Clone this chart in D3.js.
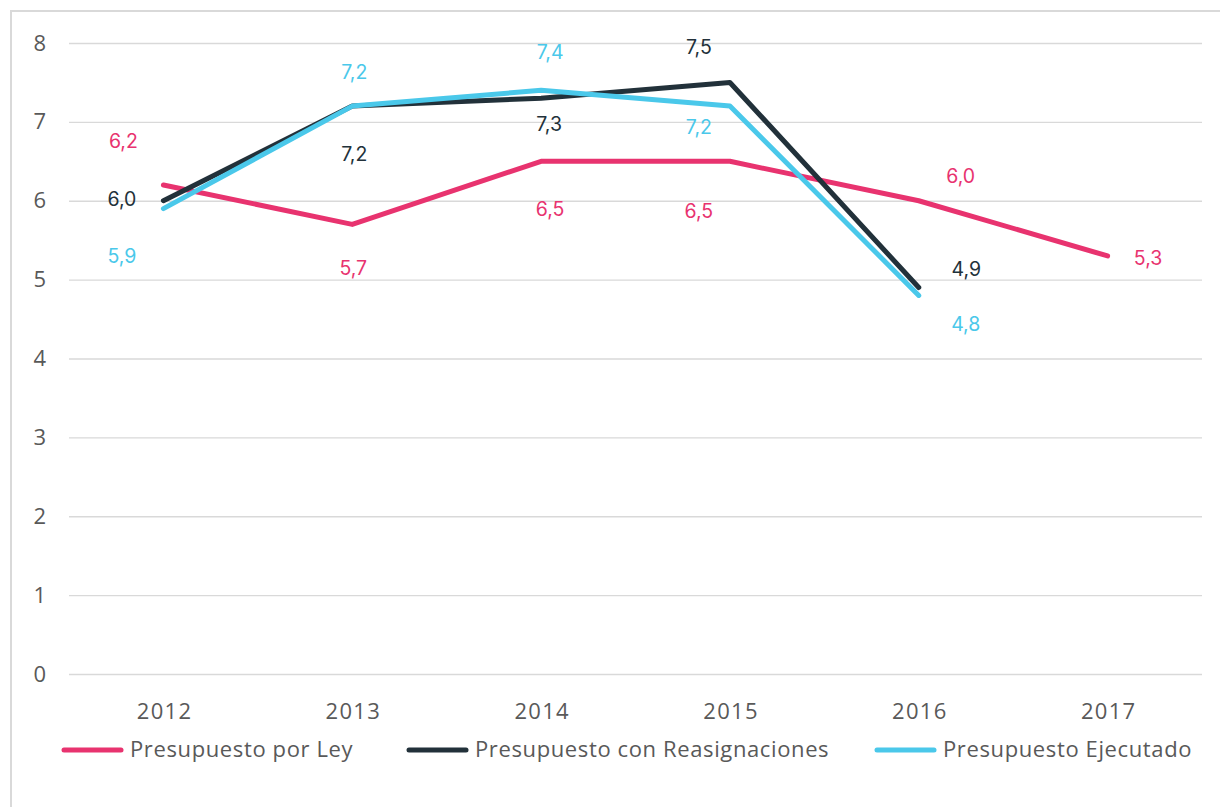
<!DOCTYPE html>
<html>
<head>
<meta charset="utf-8">
<script src="https://cdn.jsdelivr.net/npm/d3@7"></script>
<style>
  html, body { margin: 0; padding: 0; background: #fff; }
  svg { display: block; }
</style>
</head>
<body>
<svg id="chart" width="1220" height="807"></svg>
<script>
// ---- data ----
const years = ["2012", "2013", "2014", "2015", "2016", "2017"];
const yTicks = [0, 1, 2, 3, 4, 5, 6, 7, 8];
const seriesNames = ["Presupuesto por Ley", "Presupuesto con Reasignaciones", "Presupuesto Ejecutado"];
const presupuestoLey = [6.2, 5.7, 6.5, 6.5, 6.0, 5.3];
const presupuestoReasignaciones = [6.0, 7.2, 7.3, 7.5, 4.9, null];
const presupuestoEjecutado = [5.9, 7.2, 7.4, 7.2, 4.8, null];

// ---- styling / layout ----
const colors = ["#E8336F", "#22313A", "#4AC8EA"];
const labelOffsets = [
  [[-40, -43.5], [1, 43.6], [9, 47.7], [-31, 49.7], [42, -24.7], [40.5, 2]],
  [[-41.5, -1.7], [2, 48], [8, 25.3], [-31, -35], [47.5, -18.5], null],
  [[-41.5, 47.4], [2, -34.6], [9, -38.8], [-31, 20.4], [47, 28.6], null]
];
const legendX = [62, 407, 875];

const svg = d3.select("#chart");
const plotLeft = 69, plotRight = 1202, plotTop = 43, plotBottom = 674;

// frame
svg.append("rect")
  .attr("x", 11).attr("y", 11)
  .attr("width", 1230).attr("height", 820)
  .attr("fill", "none").attr("stroke", "#d9d9d9").attr("stroke-width", 2);

const x = d3.scalePoint().domain(years).range([plotLeft, plotRight]).padding(0.5);
const y = d3.scaleLinear().domain([0, 8]).range([plotBottom, plotTop]);

const axisFont = "'Open Sans', 'Liberation Sans', sans-serif";

// y axis with gridlines
const gy = svg.append("g")
  .attr("transform", `translate(${plotLeft},0)`)
  .call(d3.axisLeft(y).tickValues(yTicks).tickSize(-(plotRight - plotLeft)).tickPadding(23).tickFormat(d3.format("d")));
gy.select(".domain").remove();
gy.selectAll(".tick line").attr("stroke", "#d9d9d9").attr("stroke-width", 1.3);
gy.selectAll(".tick text")
  .attr("fill", "#595959")
  .style("font-family", axisFont)
  .style("font-size", "22px");

// x axis
const gx = svg.append("g")
  .attr("transform", `translate(0,${plotBottom})`)
  .call(d3.axisBottom(x).tickSize(0).tickPadding(29));
gx.select(".domain").remove();
gx.selectAll(".tick text")
  .attr("fill", "#595959")
  .attr("dx", "0.6px")
  .style("font-family", axisFont)
  .style("font-size", "22px")
  .style("letter-spacing", "1.3px");

// lines
const allSeries = [presupuestoLey, presupuestoReasignaciones, presupuestoEjecutado];
const line = d3.line()
  .defined(d => d.v !== null)
  .x(d => x(d.year))
  .y(d => y(d.v));

allSeries.forEach((vals, i) => {
  const pts = years.map((yr, j) => ({ year: yr, v: vals[j] }));
  svg.append("path")
    .datum(pts)
    .attr("d", line)
    .attr("fill", "none")
    .attr("stroke", colors[i])
    .attr("stroke-width", 5)
    .attr("stroke-linejoin", "round")
    .attr("stroke-linecap", "round");
});

// data labels
const fmt = d3.formatLocale({ decimal: ",", thousands: ".", grouping: [3], currency: ["", ""] }).format(".1f");
allSeries.forEach((vals, i) => {
  const pts = years.map((yr, j) => ({ year: yr, v: vals[j], off: labelOffsets[i][j] }))
    .filter(d => d.v !== null);
  svg.append("g").selectAll("text")
    .data(pts)
    .join("text")
    .attr("x", d => x(d.year) + d.off[0])
    .attr("y", d => y(d.v) + d.off[1])
    .attr("dy", "0.36em")
    .attr("text-anchor", "middle")
    .attr("fill", colors[i])
    .style("font-family", "Inter, Lato, sans-serif")
    .style("font-size", "19.5px")
    .style("font-weight", 400)
    .text(d => fmt(d.v));
});

// legend
const legend = svg.append("g");
seriesNames.forEach((name, i) => {
  const lx = legendX[i];
  legend.append("line")
    .attr("x1", lx + 2).attr("x2", lx + 59)
    .attr("y1", 750).attr("y2", 750)
    .attr("stroke", colors[i])
    .attr("stroke-width", 5)
    .attr("stroke-linecap", "round");
  legend.append("text")
    .attr("x", lx + 68).attr("y", 757)
    .attr("fill", "#595959")
    .style("font-family", axisFont)
    .style("font-size", "22px")
    .style("letter-spacing", "0.62px")
    .text(name);
});
</script>
</body>
</html>
